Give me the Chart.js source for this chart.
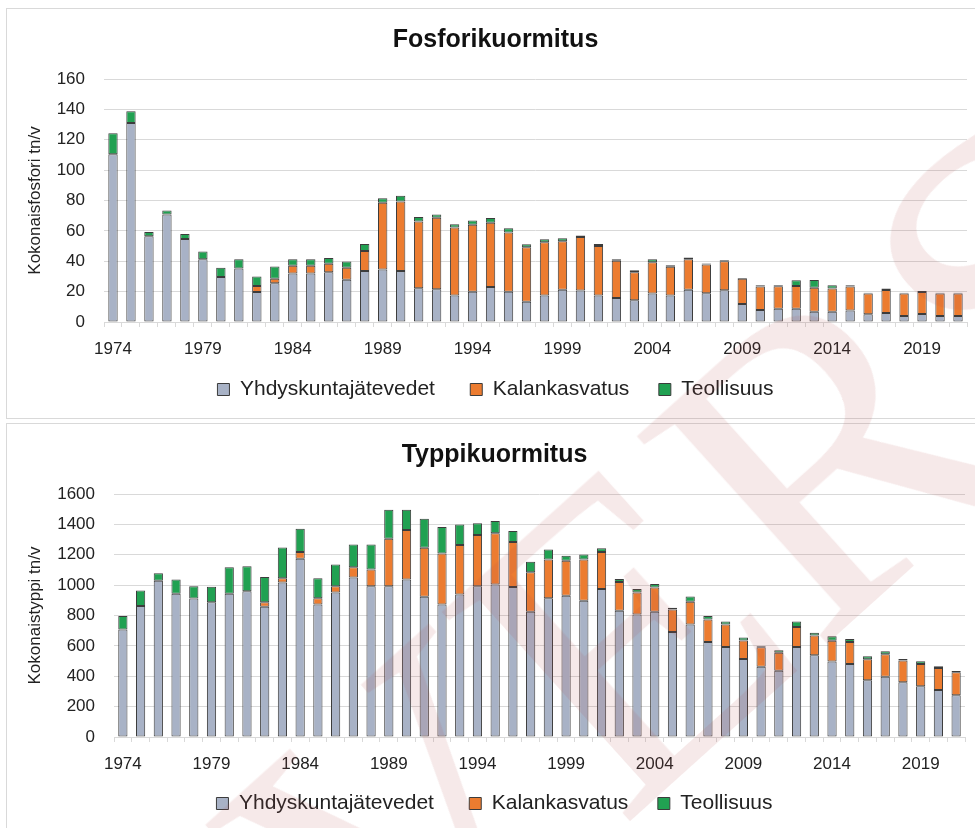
<!DOCTYPE html>
<html>
<head>
<meta charset="utf-8">
<script src="https://cdn.jsdelivr.net/npm/chart.js@4.4.0/dist/chart.umd.min.js"></script>
<style>
    body { margin: 0; background: #fff; width: 975px; height: 828px; overflow: hidden; position: relative; }
    .panel { position: absolute; left: 6px; width: 1000px; border: 1px solid #d9d9d9; box-sizing: border-box; }
    #panel1 { top: 8px; height: 411px; }
    #panel2 { top: 423px; height: 430px; }
    canvas { position: absolute; left: 0; }
    #chart1 { top: 0; }
    #chart2 { top: 425px; }
    #mark {
        position: absolute; left: 870px; top: 410px;
        transform: translate(-50%, -50%) rotate(-42deg);
        font-family: "Liberation Serif", "DejaVu Serif", serif;
        font-size: 430px; line-height: 1; white-space: nowrap;
        color: rgba(185, 70, 70, 0.12);
        pointer-events: none;
    }
</style>
</head>
<body>
<div class="panel" id="panel1"></div>
<div class="panel" id="panel2"></div>
<canvas id="chart1" width="975" height="418"></canvas>
<canvas id="chart2" width="975" height="403"></canvas>
<div id="mark">VERSIO</div>
<script>
const years = ['1974', '1975', '1976', '1977', '1978', '1979', '1980', '1981', '1982', '1983',
    '1984', '1985', '1986', '1987', '1988', '1989', '1990', '1991', '1992', '1993',
    '1994', '1995', '1996', '1997', '1998', '1999', '2000', '2001', '2002', '2003',
    '2004', '2005', '2006', '2007', '2008', '2009', '2010', '2011', '2012', '2013',
    '2014', '2015', '2016', '2017', '2018', '2019', '2020', '2021'];
const labelYears = ['1974', '1979', '1984', '1989', '1994', '1999', '2004', '2009', '2014', '2019'];
const seriesNames = ['Yhdyskuntajätevedet', 'Kalankasvatus', 'Teollisuus'];

// Fosfori (tn/v)
const pMunicipal = [110.5, 131, 56.5, 70.8, 54.7, 41.3, 29.7, 35.2, 19.8, 25.5,
    31.9, 31.9, 32.7, 27.9, 33.6, 34.5, 33.6, 22.2, 21.5, 17.4,
    20.0, 23.1, 20.0, 13.4, 17.4, 21.3, 20.7, 17.4, 15.8, 14.3,
    18.7, 17.4, 21.3, 18.9, 20.9, 11.9, 7.9, 8.8, 8.8, 6.8,
    6.8, 7.5, 5.1, 5.9, 4.0, 5.3, 4.0, 4.0];
const pFishFarming = [0, 0, 0, 0, 0, 0, 0, 0, 3.9, 2.9,
    5.2, 5.2, 5.6, 7.9, 13.2, 44.0, 45.7, 44.0, 47.1, 44.8,
    44.0, 42.2, 38.9, 35.8, 35.1, 31.9, 35.3, 32.7, 24.6, 18.4,
    20.6, 18.9, 20.0, 18.9, 19.1, 16.5, 15.4, 14.7, 14.9, 15.8,
    15.2, 15.8, 13.6, 15.2, 14.7, 14.5, 14.7, 14.7];
const pIndustry = [13.7, 7.7, 2.8, 2.6, 3.3, 5.1, 6.1, 6.1, 6.2, 8.1,
    4.2, 4.2, 3.9, 4.0, 4.6, 3.0, 3.8, 3.0, 2.2, 2.2,
    2.8, 3.1, 2.9, 2.0, 2.0, 2.0, 0.9, 1.3, 0.9, 1.4,
    2.0, 1.1, 1.1, 0.7, 0.7, 0.6, 0.9, 0.7, 3.8, 5.1,
    2.2, 0.9, 0.6, 0.9, 0.6, 0.6, 0.6, 0.6];

// Typpi (tn/v)
const nMunicipal = [708, 862, 1029, 943, 912, 888, 943, 960, 857, 1018,
    1174, 873, 952, 1051, 993, 993, 1037, 923, 873, 939,
    993, 1004, 987, 824, 914, 930, 897, 974, 831, 807,
    824, 692, 741, 626, 593, 514, 462, 437, 593, 538,
    497, 481, 374, 396, 360, 334, 310, 275];
const nFishFarming = [0, 0, 0, 0, 0, 0, 0, 0, 31, 28,
    44, 41, 41, 66, 110, 313, 326, 323, 336, 325,
    337, 337, 297, 260, 255, 230, 272, 244, 189, 145,
    161, 148, 149, 148, 148, 121, 129, 117, 132, 130,
    136, 145, 138, 149, 143, 147, 145, 151];
const nIndustry = [88, 103, 50, 94, 81, 101, 174, 165, 165, 202,
    154, 132, 143, 151, 165, 191, 134, 191, 174, 136,
    77, 81, 72, 70, 66, 33, 33, 24, 20, 22,
    22, 11, 35, 22, 19, 20, 7, 17, 35, 18,
    31, 20, 20, 20, 11, 18, 11, 9];

const colors = ['#a8b2c6', '#ec7c30', '#21a152'];
const legendSpaces = ['    ', '   ', ''];
const textColor = '#222222';
const gridColor = '#d9d9d9';
const fontFamily = '"Liberation Sans", Arial, sans-serif';

function drawChart(canvasId, title, yTitle, series, yMax, yStep, cfg) {
    const ctx = document.getElementById(canvasId).getContext('2d');
    return new Chart(ctx, {
        type: 'bar',
        data: {
            labels: years,
            datasets: series.map((values, i) => ({
                label: seriesNames[i],
                data: values.map(v => v || null),
                backgroundColor: colors[i],
                borderColor: '#3c3c3c',
                borderWidth: 1,
                borderSkipped: false,
                barPercentage: 0.52,
                categoryPercentage: 1
            }))
        },
        options: {
            responsive: false,
            animation: false,
            layout: {
                padding: { left: 24, right: cfg.padRight, top: 0, bottom: cfg.padBottom }
            },
            plugins: {
                title: {
                    display: true,
                    text: title,
                    color: '#111',
                    font: { family: fontFamily, size: 25, weight: 'bold' },
                    padding: { top: cfg.titleTop, bottom: 24 }
                },
                legend: {
                    position: 'bottom',
                    labels: {
                        color: textColor,
                        font: { family: fontFamily, size: 21 },
                        boxWidth: 12,
                        boxHeight: 12,
                        padding: 12,
                        generateLabels: function (chart) {
                            const items = Chart.defaults.plugins.legend.labels.generateLabels(chart);
                            items.forEach((item, i) => { item.text = item.text + legendSpaces[i]; });
                            return items;
                        }
                    }
                },
                tooltip: { enabled: false }
            },
            scales: {
                x: {
                    stacked: true,
                    grid: {
                        display: true,
                        offset: true,
                        drawOnChartArea: false,
                        drawTicks: true,
                        tickLength: 5,
                        color: gridColor
                    },
                    border: { display: true, color: gridColor },
                    ticks: {
                        autoSkip: false,
                        maxRotation: 0,
                        padding: 12,
                        color: textColor,
                        font: { family: fontFamily, size: 17 },
                        callback: function (value) {
                            const year = this.getLabelForValue(value);
                            return labelYears.includes(year) ? year : '';
                        }
                    },
                    afterFit: function (scale) { scale.height = cfg.xHeight; }
                },
                y: {
                    stacked: true,
                    min: 0,
                    max: yMax,
                    grid: { color: gridColor, drawTicks: false },
                    border: { display: false },
                    ticks: {
                        stepSize: yStep,
                        padding: 19,
                        color: textColor,
                        font: { family: fontFamily, size: 17 },
                        callback: value => String(value)
                    },
                    title: {
                        display: true,
                        text: yTitle,
                        color: textColor,
                        font: { family: fontFamily, size: 17 },
                        padding: { top: 1, bottom: 0 }
                    },
                    afterFit: function (scale) { scale.width = cfg.yWidth; }
                }
            }
        }
    });
}

drawChart('chart1', 'Fosforikuormitus', 'Kokonaisfosfori tn/v',
    [pMunicipal, pFishFarming, pIndustry], 160, 20,
    { yWidth: 80, xHeight: 45, padBottom: 8, padRight: 8, titleTop: 25 });

drawChart('chart2', 'Typpikuormitus', 'Kokonaistyppi tn/v',
    [nMunicipal, nFishFarming, nIndustry], 1600, 200,
    { yWidth: 90, xHeight: 44, padBottom: 4, padRight: 10, titleTop: 15 });
</script>
</body>
</html>
